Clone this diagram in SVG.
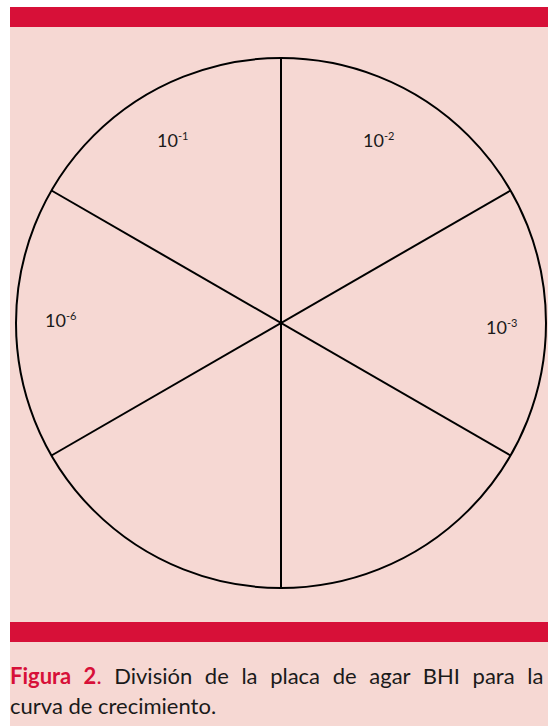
<svg xmlns="http://www.w3.org/2000/svg" width="548" height="726" viewBox="0 0 548 726">
<style>
.bg{fill:#F6D8D3}
.bar{fill:#D71038}
.ln{stroke:#000;stroke-width:2;fill:none}
.lbl{font-family:Lato,"Open Sans","Liberation Sans",sans-serif;font-size:18px;fill:#1a1a1a}
.sup{font-size:11px}
.cap{font-family:Lato,"Open Sans","Liberation Sans",sans-serif;font-size:22px;fill:#1a1a1a}
.capb{fill:#D71038;font-weight:bold}
</style>
<rect x="0" y="0" width="548" height="726" fill="#fff"/>
<rect class="bg" x="10" y="26" width="538" height="700"/>
<rect class="bar" x="10" y="7" width="538" height="20"/>
<rect class="bar" x="10" y="622" width="538" height="20"/>
<g id="plate">
<circle class="ln" cx="281" cy="323" r="265"/>
</g>
<g id="connectors">
<line class="ln" x1="281" y1="58" x2="281" y2="588"/>
<line class="ln" x1="51.5" y1="190.5" x2="510.5" y2="455.5"/>
<line class="ln" x1="51.5" y1="455.5" x2="510.5" y2="190.5"/>
</g>
<g id="s1"><text class="lbl" x="157" y="147">10<tspan class="sup" dy="-7">-1</tspan></text></g>
<g id="s2"><text class="lbl" x="363" y="147">10<tspan class="sup" dy="-7">-2</tspan></text></g>
<g id="s6"><text class="lbl" x="45" y="327">10<tspan class="sup" dy="-7">-6</tspan></text></g>
<g id="s3"><text class="lbl" x="486" y="334">10<tspan class="sup" dy="-7">-3</tspan></text></g>
<g id="caption">
<text class="cap" x="10" y="684" word-spacing="7"><tspan class="capb">Figura 2</tspan><tspan fill="#D71038">.</tspan> División de la placa de agar BHI para la</text>
<text class="cap" x="10" y="714">curva de crecimiento.</text>
</g>
</svg>
